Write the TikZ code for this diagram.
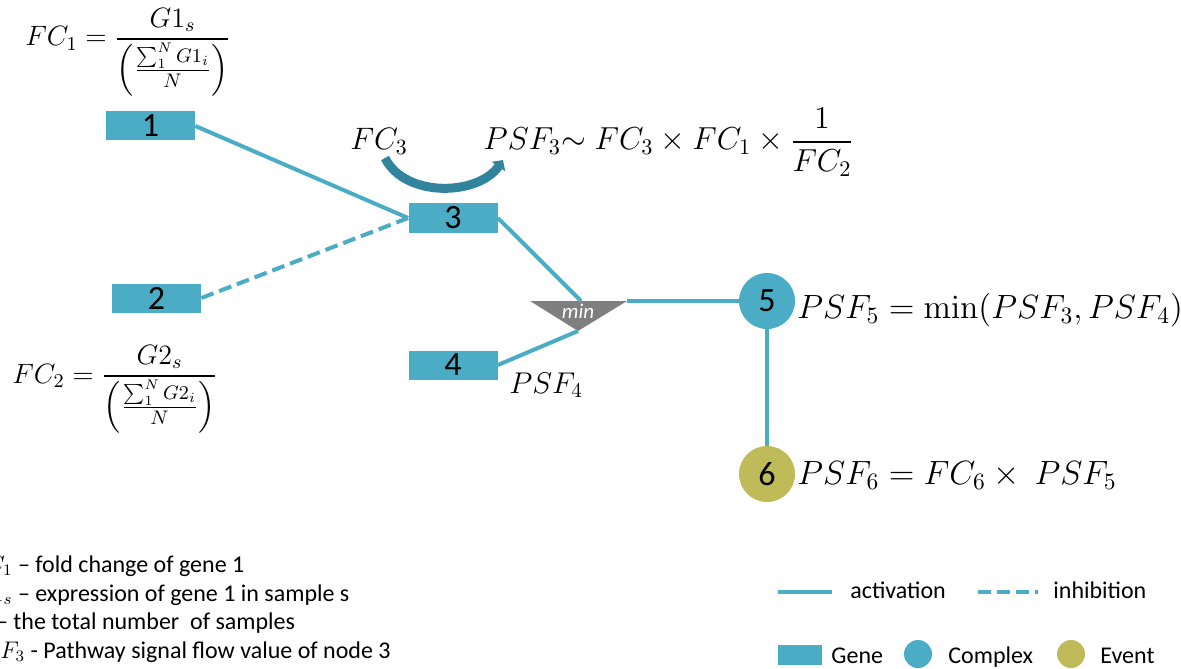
\RequirePackage{fix-cm}
\documentclass[tikz,border=0pt]{standalone}
\usepackage{amsmath}
\usepackage[no-math]{fontspec}
\setmainfont{Carlito}
\usetikzlibrary{arrows.meta}

\definecolor{genecol}{HTML}{4BACC6}
\definecolor{eventcol}{HTML}{BFBB58}
\definecolor{loopcol}{HTML}{31849B}
\definecolor{mincol}{HTML}{7F7F7F}

\tikzset{
	gene/.style={rectangle, fill=genecol, inner sep=0pt, minimum width=44.5pt, minimum height=14.5pt, font=\fontsize{17}{17}\selectfont},
	complex/.style={circle, fill=genecol, inner sep=0pt, minimum size=28pt, font=\fontsize{17}{17}\selectfont},
	event/.style={complex, fill=eventcol},
	act/.style={draw=genecol, line width=2pt},
	inh/.style={act, dash pattern=on 6.5pt off 3pt},
	formula/.style={inner sep=0pt, anchor=base west},
	legtext/.style={inner sep=0pt, anchor=base west, font=\fontsize{12}{13}\selectfont},
}

\begin{document}
\begin{tikzpicture}[x=0.5pt, y=-0.5pt]

	\useasboundingbox (0,0) rectangle (1181,668);

	% genes and complexes
	\node[gene] (g1) at (150.5,126) {1};
	\node[gene] (g2) at (156.5,298) {2};
	\node[gene] (g3) at (453,218) {3};
	\node[gene] (g4) at (453,365) {4};
	\node[complex] (c5) at (767,301) {5};
	\node[event] (e6) at (767,474) {6};

	% min junction
	\coordinate (mintl) at (530,301);
	\coordinate (mintr) at (627,301);
	\coordinate (mintop) at (581,301);
	\coordinate (minbot) at (578,331);
	\fill[mincol] (mintl) -- (mintr) -- (minbot) -- cycle;
	\node[text=white, inner sep=0pt, font=\fontsize{10.5}{11}\selectfont\itshape] (mintxt) at (578,311) {min};

	% edges
	\draw[act] (g1.east) -- (g3.west);
	\draw[inh] (g2.east) -- (g3.west);
	\draw[act] (g3.east) -- (mintop);
	\draw[act] (g4.east) -- (minbot);
	\draw[act] (mintr) -- (c5.west);
	\draw[act] (c5) -- (e6);

	% formulas
	\node[formula, font=\fontsize{14}{14}\selectfont] (fc1) at (25,46)
		{$\displaystyle FC_1=\frac{G1_s}{\Bigl(\frac{\sum_1^N G1_i}{N}\Bigr)}$};
	\node[formula, font=\fontsize{14}{14}\selectfont] (fc2) at (12,383)
		{$\displaystyle FC_2=\frac{G2_s}{\Bigl(\frac{\sum_1^N G2_i}{N}\Bigr)}$};
	\node[formula, font=\fontsize{15.5}{17}\selectfont] (fc3) at (350,150) {$FC_3$};
	\node[formula, font=\fontsize{15.9}{17}\selectfont] (psf3) at (483,150)
		{$PSF_3{\sim}\;FC_3\times FC_1\times\dfrac{1}{FC_2}$};
	\node[formula, font=\fontsize{15}{16}\selectfont] (psf4) at (509,393) {$PSF_4$};
	\node[formula, font=\fontsize{16.8}{19}\selectfont] (psf5) at (797,318) {$PSF_5=\min(PSF_3,PSF_4)$};
	\node[formula, font=\fontsize{16.8}{19}\selectfont] (psf6) at (797,484) {$PSF_6=FC_6\times\ PSF_5$};

	% FC3 -> PSF3
	\coordinate (loopS) at (385,158);
	\coordinate (loopE) at (503,160);
	\draw[loopcol, line width=4.5pt, -{Triangle[length=4pt, width=8pt]}]
		(loopS) .. controls (405,198) and (478,196) .. (loopE);

	% notes
	\node[legtext] (n1) at (35,572) {\llap{$FC_1$ – }fold change of gene 1};
	\node[legtext] (n2) at (35,601) {\llap{$G1_s$ – }expression of gene 1 in sample s};
	\node[legtext] (n3) at (13,629) {\llap{$N$ – }the total number\ \ of samples};
	\node[legtext] (n4) at (43,658) {\llap{$PSF_3$ - }Pathway signal flow value of node 3};

	% legend
	\coordinate (actA) at (778,592);
	\coordinate (actB) at (832,592);
	\coordinate (inhA) at (978,592);
	\coordinate (inhB) at (1038,592);
	\draw[act] (actA) -- (actB);
	\draw[inh] (inhA) -- (inhB);
	\node[legtext] (lact) at (850,598) {activation};
	\node[legtext] (linh) at (1053,598) {inhibition};
	\node[gene, minimum width=22pt, minimum height=10pt] (lgene) at (800,655) {};
	\node[complex, minimum size=14pt] (lcomplex) at (918,654) {};
	\node[event, minimum size=14pt] (levent) at (1071,654) {};
	\node[legtext] (tgene) at (831,663) {Gene};
	\node[legtext] (tcomplex) at (948,663) {Complex};
	\node[legtext] (tevent) at (1100,663) {Event};

\end{tikzpicture}
\end{document}
